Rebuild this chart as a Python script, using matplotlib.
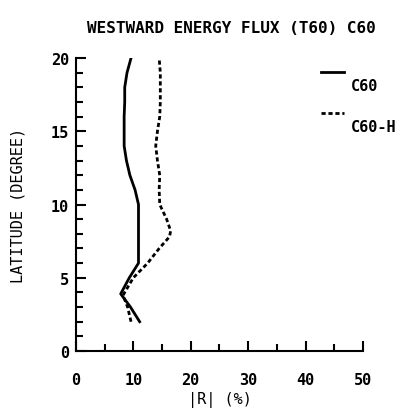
import numpy as np
import matplotlib
matplotlib.use("Agg")
import matplotlib.pyplot as plt
from matplotlib.lines import Line2D

# C60 (solid) and C60-H (dashed): |R| (%) vs latitude (degree)
lat_c60 = [2, 3, 3.9, 5, 6, 7, 8, 9, 10, 11, 12, 13, 14, 15, 16, 17, 18, 19, 20]
r_c60 = [11.1, 9.5, 7.8, 9.3, 10.9, 10.9, 10.9, 10.9, 10.9, 10.3, 9.4, 8.8, 8.4,
         8.4, 8.4, 8.5, 8.5, 8.9, 9.6]

lat_c60h = [2, 3, 3.8, 4.2, 5, 6, 7, 7.8, 8.2, 9, 10, 11, 12, 13, 14, 15, 16,
            17, 18, 19, 20]
r_c60h = [9.6, 9.0, 8.2, 8.8, 10.0, 12.5, 14.5, 16.3, 16.5, 15.8, 14.6, 14.5,
          14.6, 14.2, 13.9, 14.2, 14.6, 14.7, 14.7, 14.7, 14.5]

x_ticks = [0, 10, 20, 30, 40, 50]
y_ticks = [0, 5, 10, 15, 20]

plt.rcParams['font.family'] = 'DejaVu Sans Mono'
plt.rcParams['font.weight'] = 'bold'

fig = plt.figure(figsize=(4.06, 4.10), dpi=100)
ax = fig.add_axes([0.187, 0.1415, 0.707, 0.7145])

ax.plot(r_c60, lat_c60, color='black', lw=2.0)
ax.plot(r_c60h, lat_c60h, color='black', lw=2.0, dashes=(1.5, 1.0))

ax.set_xlim(0, 50)
ax.set_ylim(0, 20)
ax.set_xticks(x_ticks)
ax.set_yticks(y_ticks)
ax.set_xticks(np.arange(0, 51, 5), minor=True)
ax.set_yticks(np.arange(0, 21, 1), minor=True)
ax.tick_params(direction='in', length=7, width=1.5, labelsize=11)
ax.tick_params(which='minor', direction='in', length=5, width=1.5)
ax.tick_params(axis='x', pad=15)
ax.tick_params(axis='y', pad=5)

for s in ['top', 'right']:
    ax.spines[s].set_visible(False)
for s in ['left', 'bottom']:
    ax.spines[s].set_linewidth(1.5)

ax.set_xlabel('|R| (%)', fontsize=11, labelpad=3)
ax.set_ylabel('LATITUDE (DEGREE)', fontsize=11, labelpad=18)
fig.text(0.57, 0.93, 'WESTWARD ENERGY FLUX (T60) C60', fontsize=11.5,
         ha='center', va='center')

# legend drawn by hand to the right of the plot
fig.add_artist(Line2D([0.79, 0.847], [0.822, 0.822], color='black', lw=2.0))
fig.text(0.865, 0.788, 'C60', fontsize=11, va='center')
fig.add_artist(Line2D([0.79, 0.847], [0.722, 0.722], color='black', lw=2.0,
                      dashes=(1.5, 1.0)))
fig.text(0.865, 0.688, 'C60-H', fontsize=11, va='center')

fig.savefig('out.png', dpi=100)
